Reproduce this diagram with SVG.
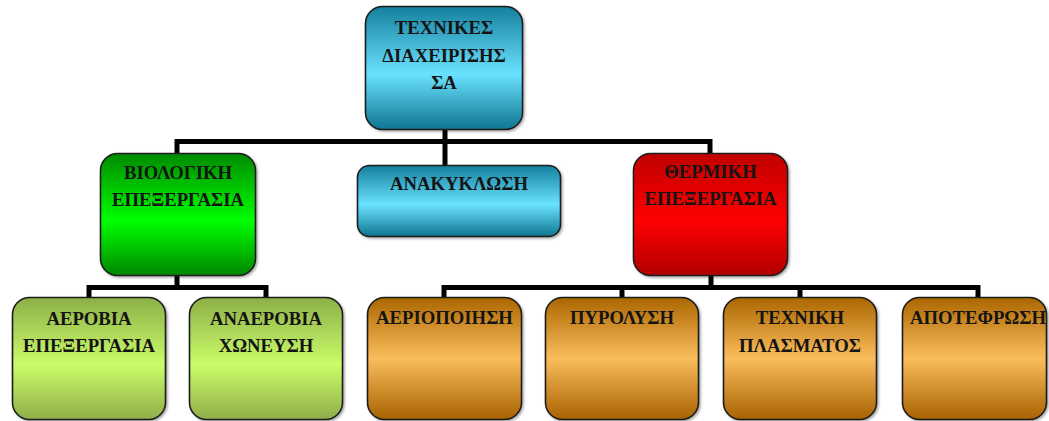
<svg xmlns="http://www.w3.org/2000/svg" width="1049" height="421" viewBox="0 0 1049 421">
<defs>
<linearGradient id="gCyan" x1="0" y1="0" x2="0" y2="1">
<stop offset="0" stop-color="#14809e"/><stop offset="0.55" stop-color="#6ae2ff"/><stop offset="1" stop-color="#0e7591"/>
</linearGradient>
<linearGradient id="gGreen" x1="0" y1="0" x2="0" y2="1">
<stop offset="0" stop-color="#008a00"/><stop offset="0.55" stop-color="#00ff00"/><stop offset="1" stop-color="#008600"/>
</linearGradient>
<linearGradient id="gRed" x1="0" y1="0" x2="0" y2="1">
<stop offset="0" stop-color="#c00000"/><stop offset="0.55" stop-color="#ff0000"/><stop offset="1" stop-color="#b00000"/>
</linearGradient>
<linearGradient id="gLime" x1="0" y1="0" x2="0" y2="1">
<stop offset="0" stop-color="#8caf48"/><stop offset="0.55" stop-color="#cbfc68"/><stop offset="1" stop-color="#8fae4a"/>
</linearGradient>
<linearGradient id="gOrange" x1="0" y1="0" x2="0" y2="1">
<stop offset="0" stop-color="#ab6600"/><stop offset="0.5" stop-color="#fbbd5c"/><stop offset="1" stop-color="#a86200"/>
</linearGradient>
<filter id="sh" x="-10%" y="-10%" width="120%" height="120%">
<feDropShadow dx="1.5" dy="1.5" stdDeviation="1" flood-color="#000" flood-opacity="0.35"/>
</filter>
</defs>
<style>
.box{stroke:#1e1e1e;stroke-width:1.6;filter:url(#sh)}
.t{font-family:"Liberation Serif","Times New Roman",serif;font-weight:bold;font-size:18.7px;fill:#141414;text-anchor:middle}
.c{fill:none;stroke:#000;stroke-width:5;stroke-linecap:square}
</style>
<g id="connectors">
<path class="c" d="M177,152 V141.5 H710 V152"/>
<path class="c" d="M445,130 V164"/>
<path class="c" d="M177,276 V287.5"/>
<path class="c" d="M89,296 V287.5 H266 V296"/>
<path class="c" d="M711,276 V287.5"/>
<path class="c" d="M444,296 V287.5 H978 V296"/>
<path class="c" d="M622,287.5 V296"/>
<path class="c" d="M800,287.5 V296"/>
</g>
<g id="n-top">
<rect class="box" x="365.5" y="6.5" width="157" height="123" rx="17" fill="url(#gCyan)"/>
<text class="t" x="444" y="34">ΤΕΧΝΙΚΕΣ</text>
<text class="t" x="444" y="62">ΔΙΑΧΕΙΡΙΣΗΣ</text>
<text class="t" x="444" y="89">ΣΑ</text>
</g>
<g id="n-bio">
<rect class="box" x="100.5" y="153.5" width="155" height="122" rx="17" fill="url(#gGreen)"/>
<text class="t" x="178" y="179">ΒΙΟΛΟΓΙΚΗ</text>
<text class="t" x="178" y="206">ΕΠΕΞΕΡΓΑΣΙΑ</text>
</g>
<g id="n-recycle">
<rect class="box" x="357.5" y="165.5" width="203" height="71" rx="12" fill="url(#gCyan)"/>
<text class="t" x="459" y="190">ΑΝΑΚΥΚΛΩΣΗ</text>
</g>
<g id="n-thermal">
<rect class="box" x="633.5" y="153.5" width="154" height="122" rx="17" fill="url(#gRed)"/>
<text class="t" x="710.5" y="178">ΘΕΡΜΙΚΗ</text>
<text class="t" x="710.5" y="205">ΕΠΕΞΕΡΓΑΣΙΑ</text>
</g>
<g id="n-aerobic">
<rect class="box" x="12.5" y="297.5" width="153" height="122" rx="17" fill="url(#gLime)"/>
<text class="t" x="89" y="325">ΑΕΡΟΒΙΑ</text>
<text class="t" x="89" y="352">ΕΠΕΞΕΡΓΑΣΙΑ</text>
</g>
<g id="n-anaerobic">
<rect class="box" x="189.5" y="297.5" width="153" height="122" rx="17" fill="url(#gLime)"/>
<text class="t" x="266" y="325">ΑΝΑΕΡΟΒΙΑ</text>
<text class="t" x="266" y="352">ΧΩΝΕΥΣΗ</text>
</g>
<g id="n-gasification">
<rect class="box" x="367.5" y="297.5" width="154" height="122" rx="17" fill="url(#gOrange)"/>
<text class="t" x="444.5" y="324">ΑΕΡΙΟΠΟΙΗΣΗ</text>
</g>
<g id="n-pyrolysis">
<rect class="box" x="545.5" y="297.5" width="153" height="122" rx="17" fill="url(#gOrange)"/>
<text class="t" x="622" y="324">ΠΥΡΟΛΥΣΗ</text>
</g>
<g id="n-plasma">
<rect class="box" x="723.5" y="297.5" width="153" height="122" rx="17" fill="url(#gOrange)"/>
<text class="t" x="800" y="324">ΤΕΧΝΙΚΗ</text>
<text class="t" x="800" y="352">ΠΛΑΣΜΑΤΟΣ</text>
</g>
<g id="n-incineration">
<rect class="box" x="902.5" y="297.5" width="144" height="122" rx="17" fill="url(#gOrange)"/>
<text class="t" x="978" y="324">ΑΠΟΤΕΦΡΩΣΗ</text>
</g>
</svg>
